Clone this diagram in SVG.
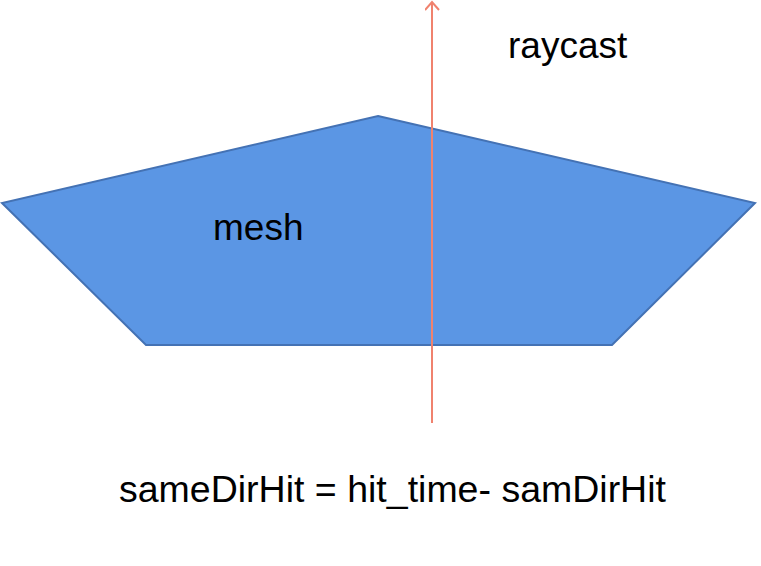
<svg xmlns="http://www.w3.org/2000/svg" width="761" height="566" viewBox="0 0 761 566">
<style>
text{font-family:"Liberation Sans",Arial,sans-serif;font-size:37px;fill:#000}
.mesh{fill:#5B96E4;stroke:#4472B4;stroke-width:2}
.ray{stroke:#F0826E;stroke-width:2;fill:none}
</style>
<defs>
<marker id="ah" markerWidth="14" markerHeight="16" refX="9" refY="7" orient="auto" markerUnits="userSpaceOnUse">
<path d="M1,0 L9,7 L1,14" fill="none" stroke="#F0826E" stroke-width="2"/>
</marker>
</defs>
<g id="mesh">
<polygon class="mesh" points="378,116 755,203 612,345 146,345 2,203"/>
<text x="213" y="240">mesh</text>
</g>
<g id="connectors">
<line class="ray" x1="432" y1="423" x2="432" y2="2" marker-end="url(#ah)"/>
</g>
<g id="labels">
<text x="508" y="58">raycast</text>
<text x="119" y="502" style="font-size:37.5px">sameDirHit = hit_time- samDirHit</text>
</g>
</svg>
